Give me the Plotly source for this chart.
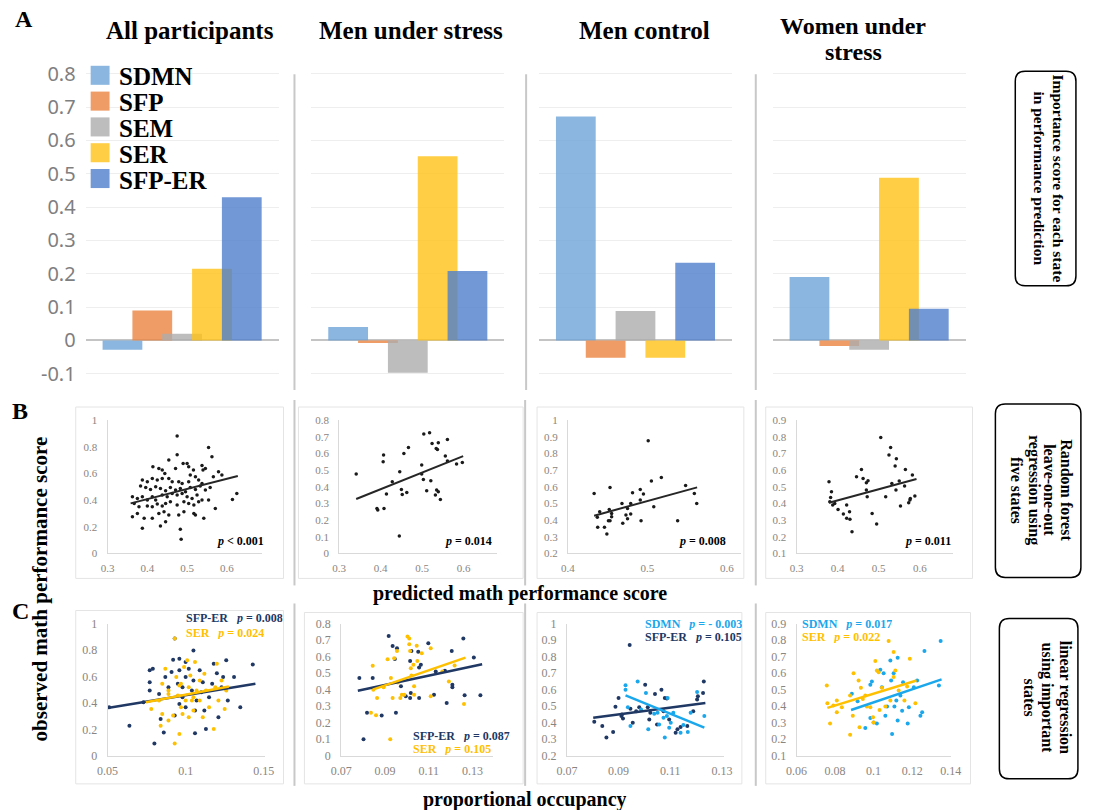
import plotly.graph_objects as go

# Figure size; positions below are given in page pixels of a 1094 x 810 view.
W, H = 1094, 814
VIEW_W, VIEW_H = 1094, 810
SX, SY = 1094 / 1110, 810 / 826   # page pixels -> view pixels
OFF = 8                           # default body margin of the page
SERIF = "Liberation Serif"


def px(x):
    return (x / SX - OFF) / W


def py(y):
    return 1 - (y / SY - OFF) / H


# ---------------- data ----------------
states = ["SDMN", "SFP", "SEM", "SER", "SFP-ER"]
groups = ["All participants", "Men under stress", "Men control", "Women under<br>stress"]

# importance score of each state, one value per group
imp_sdmn = [-0.028, 0.040, 0.672, 0.190]
imp_sfp = [0.090, -0.008, -0.052, -0.017]
imp_sem = [0.020, -0.097, 0.088, -0.028]
imp_ser = [0.215, 0.553, -0.052, 0.488]
imp_sfper = [0.430, 0.208, 0.233, 0.095]

imp_ticks = [-0.1, 0, 0.1, 0.2, 0.3, 0.4, 0.5, 0.6, 0.7, 0.8]

# random forest: predicted vs observed score
rf_all_x = [0.475, 0.475, 0.554, 0.5625, 0.5, 0.49, 0.454, 0.414, 0.429, 0.4375, 0.444, 0.471, 0.504, 0.516,
            0.5375, 0.54, 0.546, 0.579, 0.5875, 0.566, 0.3875, 0.4, 0.4125, 0.425, 0.4375, 0.454, 0.4625,
            0.479, 0.4875, 0.504, 0.508, 0.521, 0.529, 0.5375, 0.383, 0.396, 0.408, 0.421, 0.433, 0.446,
            0.458, 0.471, 0.483, 0.496, 0.508, 0.521, 0.533, 0.546, 0.558, 0.3625, 0.375, 0.3875, 0.4,
            0.4125, 0.421, 0.4375, 0.45, 0.4625, 0.475, 0.4875, 0.5, 0.5125, 0.525, 0.5375, 0.554, 0.367,
            0.379, 0.4, 0.4125, 0.425, 0.4375, 0.446, 0.458, 0.475, 0.492, 0.504, 0.517, 0.529, 0.614,
            0.625, 0.3625, 0.375, 0.392, 0.4125, 0.429, 0.442, 0.454, 0.479, 0.492, 0.521, 0.542, 0.3875,
            0.433, 0.446, 0.483, 0.485, 0.571, 0.517]
rf_all_y = [0.88, 0.74, 0.795, 0.725, 0.675, 0.675, 0.70, 0.65, 0.637, 0.625, 0.6, 0.637, 0.65, 0.625, 0.66,
            0.625, 0.637, 0.612, 0.5875, 0.575, 0.55, 0.5375, 0.5625, 0.55, 0.5625, 0.5625, 0.5375, 0.5375,
            0.525, 0.5375, 0.5875, 0.575, 0.55, 0.525, 0.505, 0.495, 0.48, 0.5, 0.4875, 0.47, 0.495, 0.475,
            0.4875, 0.4625, 0.495, 0.48, 0.505, 0.475, 0.495, 0.425, 0.4125, 0.425, 0.4, 0.425, 0.4, 0.4375,
            0.425, 0.45, 0.4375, 0.45, 0.425, 0.4125, 0.4375, 0.4, 0.4, 0.375, 0.35, 0.355, 0.35, 0.37,
            0.355, 0.375, 0.3875, 0.3625, 0.3875, 0.375, 0.3625, 0.3875, 0.405, 0.45, 0.275, 0.3, 0.2625,
            0.2625, 0.3, 0.3125, 0.2875, 0.2875, 0.3125, 0.2875, 0.2625, 0.1875, 0.205, 0.2375, 0.18,
            0.105, 0.3375, 0.30]
rf_all_fit_x = [0.358, 0.6275]
rf_all_fit_y = [0.375, 0.58]

rf_ms_x = [0.341, 0.407, 0.406, 0.414, 0.391, 0.393, 0.408, 0.446, 0.456, 0.467, 0.45, 0.452, 0.463, 0.445,
           0.499, 0.503, 0.504, 0.518, 0.511, 0.521, 0.524, 0.534, 0.537, 0.539, 0.532, 0.544, 0.535, 0.539,
           0.556, 0.561, 0.561, 0.583, 0.597, 0.499, 0.428]
rf_ms_y = [0.476, 0.59, 0.55, 0.356, 0.27, 0.26, 0.27, 0.49, 0.60, 0.636, 0.384, 0.354, 0.366, 0.104, 0.53,
           0.444, 0.716, 0.724, 0.376, 0.436, 0.66, 0.63, 0.624, 0.664, 0.35, 0.324, 0.38, 0.37, 0.584,
           0.684, 0.554, 0.536, 0.546, 0.476, 0.43]
rf_ms_fit_x = [0.341, 0.599]
rf_ms_fit_y = [0.326, 0.584]

rf_mc_x = [0.433, 0.453, 0.44, 0.437, 0.4375, 0.446, 0.449, 0.451, 0.453, 0.452, 0.455, 0.455, 0.468, 0.469,
           0.473, 0.475, 0.475, 0.479, 0.479, 0.4813, 0.491, 0.491, 0.492, 0.495, 0.501, 0.505, 0.508,
           0.5175, 0.548, 0.538, 0.559, 0.562]
rf_mc_y = [0.56, 0.596, 0.45, 0.416, 0.356, 0.356, 0.316, 0.396, 0.396, 0.464, 0.42, 0.44, 0.5, 0.38, 0.43,
           0.408, 0.47, 0.436, 0.5, 0.564, 0.584, 0.52, 0.396, 0.556, 0.876, 0.634, 0.48, 0.656, 0.608,
           0.396, 0.56, 0.5]
rf_mc_fit_x = [0.433, 0.5625]
rf_mc_fit_y = [0.426, 0.596]

rf_ws_x = [0.379, 0.385, 0.383, 0.381, 0.388, 0.393, 0.401, 0.414, 0.422, 0.422, 0.429, 0.43, 0.435, 0.446,
           0.458, 0.462, 0.47, 0.474, 0.47, 0.472, 0.484, 0.495, 0.505, 0.517, 0.525, 0.529, 0.532, 0.54,
           0.543, 0.542, 0.55, 0.553, 0.563, 0.565, 0.573, 0.576, 0.577, 0.582, 0.588]
rf_ws_y = [0.53, 0.47, 0.436, 0.41, 0.39, 0.4, 0.364, 0.336, 0.39, 0.31, 0.35, 0.304, 0.23, 0.56, 0.604,
           0.55, 0.524, 0.536, 0.48, 0.44, 0.34, 0.276, 0.796, 0.44, 0.69, 0.736, 0.52, 0.624, 0.668, 0.48,
           0.534, 0.384, 0.504, 0.604, 0.404, 0.42, 0.43, 0.57, 0.444]
rf_ws_fit_x = [0.379, 0.592]
rf_ws_fit_y = [0.404, 0.546]

# linear regression: proportional occupancy vs observed score
lr_all_sfper_x = [0.051, 0.064, 0.073, 0.077, 0.077, 0.079, 0.080, 0.077, 0.083, 0.084, 0.086, 0.087, 0.089,
                  0.091, 0.092, 0.093, 0.096, 0.095, 0.096, 0.098, 0.100, 0.100, 0.102, 0.105, 0.105, 0.106,
                  0.109, 0.111, 0.110, 0.112, 0.113, 0.115, 0.117, 0.118, 0.120, 0.121, 0.123, 0.124, 0.126,
                  0.127, 0.131, 0.135, 0.143, 0.100, 0.106, 0.093, 0.096, 0.104, 0.107, 0.098]
lr_all_sfper_y = [0.367, 0.228, 0.405, 0.557, 0.646, 0.658, 0.094, 0.494, 0.468, 0.278, 0.177, 0.595, 0.519,
                  0.633, 0.727, 0.886, 0.734, 0.544, 0.646, 0.443, 0.595, 0.709, 0.658, 0.797, 0.57, 0.17,
                  0.646, 0.557, 0.481, 0.342, 0.203, 0.443, 0.544, 0.696, 0.625, 0.291, 0.519, 0.595, 0.722,
                  0.418, 0.595, 0.367, 0.691, 0.367, 0.342, 0.304, 0.392, 0.494, 0.418, 0.519]
lr_all_sfper_fit_x = [0.05, 0.1447]
lr_all_sfper_fit_y = [0.362, 0.544]

lr_all_ser_x = [0.093, 0.078, 0.083, 0.085, 0.087, 0.084, 0.089, 0.089, 0.092, 0.094, 0.095, 0.096, 0.093,
                0.097, 0.097, 0.099, 0.101, 0.102, 0.103, 0.104, 0.105, 0.106, 0.107, 0.109, 0.109, 0.111,
                0.112, 0.113, 0.115, 0.118, 0.119, 0.120, 0.121, 0.123, 0.125, 0.126, 0.102, 0.100, 0.089,
                0.096, 0.105, 0.098, 0.085]
lr_all_ser_y = [0.886, 0.354, 0.418, 0.544, 0.658, 0.228, 0.468, 0.266, 0.304, 0.595, 0.456, 0.165, 0.094,
                0.367, 0.544, 0.671, 0.722, 0.519, 0.608, 0.418, 0.342, 0.709, 0.494, 0.57, 0.418, 0.291,
                0.62, 0.494, 0.367, 0.203, 0.519, 0.696, 0.418, 0.57, 0.354, 0.494, 0.291, 0.418, 0.494,
                0.532, 0.443, 0.316, 0.316]
lr_all_ser_fit_x = [0.0745, 0.1277]
lr_all_ser_fit_y = [0.405, 0.524]

lr_ms_sfper_x = [0.0783, 0.0844, 0.0818, 0.0885, 0.095, 0.0802, 0.0917, 0.0935, 0.0955, 0.0945, 0.0973,
                 0.0995, 0.1015, 0.1018, 0.1015, 0.1021, 0.1052, 0.1056, 0.1064, 0.1056, 0.1098, 0.1124,
                 0.1132, 0.1174, 0.1182, 0.1205, 0.1208, 0.1208, 0.1258, 0.1264, 0.1306, 0.1336]
lr_ms_sfper_y = [0.47, 0.47, 0.26, 0.244, 0.26, 0.10, 0.724, 0.664, 0.65, 0.586, 0.42, 0.36, 0.35, 0.38, 0.574,
                 0.634, 0.63, 0.534, 0.55, 0.35, 0.68, 0.37, 0.51, 0.514, 0.32, 0.634, 0.43, 0.414, 0.71,
                 0.366, 0.594, 0.366]
lr_ms_sfper_fit_x = [0.0776, 0.1344]
lr_ms_sfper_fit_y = [0.394, 0.554]

lr_ms_ser_x = [0.0844, 0.0847, 0.0836, 0.0859, 0.0864, 0.0894, 0.0912, 0.0927, 0.0924, 0.0935, 0.0942,
               0.0955, 0.0958, 0.097, 0.0977, 0.0988, 0.1003, 0.1011, 0.1011, 0.1015, 0.1018, 0.1021, 0.103,
               0.1033, 0.1045, 0.1048, 0.1068, 0.1109, 0.1109, 0.1162, 0.1192, 0.1218, 0.1261, 0.1033]
lr_ms_ser_y = [0.544, 0.40, 0.26, 0.246, 0.35, 0.414, 0.584, 0.47, 0.10, 0.35, 0.59, 0.634, 0.444, 0.35, 0.37,
               0.37, 0.722, 0.71, 0.674, 0.634, 0.53, 0.486, 0.55, 0.42, 0.666, 0.574, 0.62, 0.36, 0.65,
               0.51, 0.45, 0.546, 0.314, 0.37]
lr_ms_ser_fit_x = [0.0844, 0.1268]
lr_ms_ser_fit_y = [0.40, 0.594]

lr_mc_sfper_x = [0.0806, 0.0837, 0.0853, 0.0879, 0.0888, 0.09, 0.0911, 0.0913, 0.0917, 0.0943, 0.0946,
                 0.0955, 0.0968, 0.098, 0.1003, 0.1013, 0.1019, 0.1023, 0.1041, 0.1049, 0.1066, 0.1074,
                 0.1079, 0.1087, 0.1096, 0.1121, 0.1128, 0.114, 0.1166, 0.1189, 0.1204, 0.1207, 0.1227, 0.123]
lr_mc_sfper_y = [0.406, 0.38, 0.31, 0.344, 0.496, 0.55, 0.44, 0.45, 0.426, 0.87, 0.484, 0.4, 0.47, 0.494,
                 0.63, 0.494, 0.42, 0.46, 0.574, 0.39, 0.6, 0.47, 0.55, 0.546, 0.42, 0.34, 0.36, 0.374, 0.38,
                 0.47, 0.54, 0.56, 0.58, 0.65]
lr_mc_sfper_fit_x = [0.0802, 0.1236]
lr_mc_sfper_fit_y = [0.43, 0.52]

lr_mc_sdmn_x = [0.0927, 0.0927, 0.0936, 0.0946, 0.0974, 0.0987, 0.1006, 0.1051, 0.1057, 0.1074, 0.1079,
                0.1087, 0.109, 0.1096, 0.1102, 0.1112, 0.114, 0.1151, 0.1168, 0.1179, 0.1204, 0.1232, 0.1038,
                0.1015]
lr_mc_sdmn_y = [0.626, 0.60, 0.494, 0.38, 0.65, 0.48, 0.58, 0.46, 0.39, 0.43, 0.31, 0.44, 0.55, 0.37, 0.40,
                0.46, 0.34, 0.386, 0.344, 0.46, 0.586, 0.44, 0.454, 0.36]
lr_mc_sdmn_fit_x = [0.0927, 0.1232]
lr_mc_sdmn_fit_y = [0.566, 0.37]

lr_ws_ser_x = [0.0757, 0.076, 0.0774, 0.0791, 0.0809, 0.0809, 0.0835, 0.0878, 0.0878, 0.0896, 0.0892, 0.0922,
               0.0927, 0.0934, 0.0944, 0.0957, 0.0965, 0.0983, 0.0997, 0.1, 0.1009, 0.1017, 0.1026, 0.1031,
               0.1043, 0.1061, 0.1078, 0.1087, 0.1104, 0.1104, 0.1113, 0.113, 0.116, 0.1188, 0.1217, 0.1174]
lr_ws_ser_y = [0.525, 0.418, 0.296, 0.404, 0.434, 0.363, 0.394, 0.228, 0.464, 0.60, 0.343, 0.555, 0.272,
               0.511, 0.444, 0.464, 0.398, 0.394, 0.333, 0.302, 0.673, 0.616, 0.606, 0.377, 0.511, 0.398,
               0.794, 0.434, 0.728, 0.576, 0.616, 0.495, 0.434, 0.687, 0.418, 0.519]
lr_ws_ser_fit_x = [0.076, 0.1223]
lr_ws_ser_fit_y = [0.39, 0.555]

lr_ws_sdmn_x = [0.0887, 0.0917, 0.0957, 0.0983, 0.0991, 0.0983, 0.1, 0.1017, 0.1035, 0.1043, 0.1052, 0.1061,
                0.107, 0.1087, 0.1091, 0.1096, 0.1104, 0.1108, 0.1118, 0.1125, 0.1125, 0.1139, 0.1153, 0.1177,
                0.1183, 0.1209, 0.1226, 0.1243, 0.1252, 0.1264, 0.1339, 0.1348, 0.1148]
lr_ws_sdmn_y = [0.475, 0.43, 0.268, 0.529, 0.549, 0.329, 0.302, 0.296, 0.62, 0.515, 0.60, 0.343, 0.398,
                0.677, 0.555, 0.232, 0.60, 0.398, 0.434, 0.693, 0.313, 0.464, 0.545, 0.296, 0.394, 0.515,
                0.555, 0.343, 0.363, 0.734, 0.525, 0.794, 0.373]
lr_ws_sdmn_fit_x = [0.0883, 0.1353]
lr_ws_sdmn_fit_y = [0.377, 0.562]

# ---------------- styling ----------------
bar_colors = {
    "SDMN": "rgba(109,164,216,0.8)",
    "SFP": "rgba(235,131,64,0.8)",
    "SEM": "rgba(172,172,172,0.8)",
    "SER": "rgba(255,194,22,0.8)",
    "SFP-ER": "rgba(79,126,204,0.8)",
}
legend_colors = {
    "SDMN": "#8ab6e0", "SFP": "#ef9c66", "SEM": "#bdbdbd", "SER": "#ffce45", "SFP-ER": "#7298d6",
}
NAVY = "#203864"
GOLD = "#ffc000"
SKY = "#1aa7ec"
TICK_GREY = "#8a8580"

fig = go.Figure()
layout = dict(
    width=W, height=H, margin=dict(l=0, r=0, t=0, b=0),
    paper_bgcolor="white", plot_bgcolor="rgba(0,0,0,0)", showlegend=False,
)


def axkeys(n):
    s = "" if n == 1 else str(n)
    return "xaxis" + s, "yaxis" + s, "x" + s, "y" + s


# ---- row A: importance bars ----
bar_dom_px = [(83, 277), (310, 504), (539, 733), (774, 968)]
bar_top, bar_bot = 57.9, 390.4
series = {"SDMN": imp_sdmn, "SFP": imp_sfp, "SEM": imp_sem, "SER": imp_ser, "SFP-ER": imp_sfper}
for g in range(4):
    n = g + 1
    xk, yk, xs, ys = axkeys(n)
    layout[xk] = dict(domain=[px(bar_dom_px[g][0]), px(bar_dom_px[g][1])], range=[-1.233, 5.233],
                      visible=False, anchor=ys, fixedrange=True)
    layout[yk] = dict(domain=[py(bar_bot), py(bar_top)], range=[-0.15, 0.85], anchor=xs,
                      tickvals=imp_ticks, ticktext=[f"{v:g}" for v in imp_ticks],
                      showticklabels=(g == 0), ticks="", ticklabelstandoff=9,
                      tickfont=dict(family="Noto Sans", size=20, color="#7f7f7f"),
                      showgrid=True, gridcolor="#eeeeee", gridwidth=1,
                      zeroline=True, zerolinecolor="#c4c4c4", zerolinewidth=1.5,
                      showline=False, fixedrange=True)
    for k, s in enumerate(states):
        fig.add_trace(go.Bar(x=[k], y=[series[s][g]], width=1.333, marker=dict(color=bar_colors[s], line=dict(width=0)),
                             xaxis=xs, yaxis=ys, name=s))


# ---- scatter panels ----
def scatter_axes(n, xdom, xrange, xticks, ydom, yrange, yticks, fs):
    xk, yk, xs, ys = axkeys(n)
    tf = dict(family=SERIF, size=fs, color=TICK_GREY)
    layout[xk] = dict(domain=[px(xdom[0]), px(xdom[1])], range=xrange, anchor=ys,
                      tickvals=xticks, ticktext=[f"{v:g}" for v in xticks], ticks="",
                      ticklabelstandoff=4, tickfont=tf, showgrid=False, zeroline=False,
                      showline=True, linecolor="#d9d9d9", linewidth=1, fixedrange=True)
    layout[yk] = dict(domain=[py(ydom[1]), py(ydom[0])], range=yrange, anchor=xs,
                      tickvals=yticks, ticktext=[f"{v:g}" for v in yticks], ticks="",
                      ticklabelstandoff=7, tickfont=tf, showgrid=False, zeroline=False,
                      showline=True, linecolor="#d9d9d9", linewidth=1, fixedrange=True)
    return xs, ys


def add_points(xs, ys, x, y, color, size):
    fig.add_trace(go.Scatter(x=x, y=y, mode="markers", marker=dict(color=color, size=size, line=dict(width=0)),
                             xaxis=xs, yaxis=ys, hoverinfo="skip"))


def add_fit(xs, ys, x, y, color, width):
    fig.add_trace(go.Scatter(x=x, y=y, mode="lines", line=dict(color=color, width=width),
                             xaxis=xs, yaxis=ys, hoverinfo="skip"))


def ticks(a, b, step):
    out, v = [], a
    while v <= b + 1e-9:
        out.append(round(v, 4))
        v += step
    return out


RB = (420, 553)
RC = (623, 755)
rf_panels = [
    ((105, 260), [0.3, 0.6875], ticks(0.3, 0.6, 0.1), [0, 1], ticks(0, 1, 0.2), rf_all_x, rf_all_y, rf_all_fit_x, rf_all_fit_y),
    ((338, 497), [0.3, 0.6813], ticks(0.3, 0.6, 0.1), [0, 0.8], ticks(0, 0.8, 0.1), rf_ms_x, rf_ms_y, rf_ms_fit_x, rf_ms_fit_y),
    ((568, 742), [0.4, 0.6175], ticks(0.4, 0.6, 0.1), [0.2, 1], ticks(0.2, 1, 0.1), rf_mc_x, rf_mc_y, rf_mc_fit_x, rf_mc_fit_y),
    ((798, 955), [0.3, 0.68], ticks(0.3, 0.6, 0.1), [0.1, 0.9], ticks(0.1, 0.9, 0.1), rf_ws_x, rf_ws_y, rf_ws_fit_x, rf_ws_fit_y),
]
for i, (xd, xr, xt, yr, yt, x, y, fx, fy) in enumerate(rf_panels):
    xs, ys = scatter_axes(5 + i, xd, xr, xt, RB, yr, yt, 11)
    add_points(xs, ys, x, y, "#1a1a1a", 3.5)
    add_fit(xs, ys, fx, fy, "#262626", 2)

lr_panels = [
    ((105, 263), [0.05, 0.1506], [0.05, 0.1, 0.15], [0, 1], ticks(0, 1, 0.2),
     [(lr_all_sfper_x, lr_all_sfper_y, NAVY), (lr_all_ser_x, lr_all_ser_y, GOLD)],
     [(lr_all_sfper_fit_x, lr_all_sfper_fit_y, NAVY), (lr_all_ser_fit_x, lr_all_ser_fit_y, GOLD)]),
    ((340, 493), [0.07, 0.1395], [0.07, 0.09, 0.11, 0.13], [0, 0.8], ticks(0, 0.8, 0.1),
     [(lr_ms_sfper_x, lr_ms_sfper_y, NAVY), (lr_ms_ser_x, lr_ms_ser_y, GOLD)],
     [(lr_ms_sfper_fit_x, lr_ms_sfper_fit_y, NAVY), (lr_ms_ser_fit_x, lr_ms_ser_fit_y, GOLD)]),
    ((567, 725), [0.07, 0.1308], [0.07, 0.09, 0.11, 0.13], [0.2, 1], ticks(0.2, 1, 0.1),
     [(lr_mc_sfper_x, lr_mc_sfper_y, NAVY), (lr_mc_sdmn_x, lr_mc_sdmn_y, SKY)],
     [(lr_mc_sfper_fit_x, lr_mc_sfper_fit_y, NAVY), (lr_mc_sdmn_fit_x, lr_mc_sdmn_fit_y, SKY)]),
    ((798, 953), [0.06, 0.14], [0.06, 0.08, 0.1, 0.12, 0.14], [0.1, 0.9], ticks(0.1, 0.9, 0.1),
     [(lr_ws_sdmn_x, lr_ws_sdmn_y, SKY), (lr_ws_ser_x, lr_ws_ser_y, GOLD)],
     [(lr_ws_sdmn_fit_x, lr_ws_sdmn_fit_y, SKY), (lr_ws_ser_fit_x, lr_ws_ser_fit_y, GOLD)]),
]
for i, (xd, xr, xt, yr, yt, pts, fits) in enumerate(lr_panels):
    xs, ys = scatter_axes(9 + i, xd, xr, xt, RC, yr, yt, 12)
    for x, y, c in pts:
        add_points(xs, ys, x, y, c, 4)
    for x, y, c in fits:
        add_fit(xs, ys, x, y, c, 2.5)

# ---------------- shapes ----------------
shapes = []


def line(x0, y0, x1, y1, color, width):
    shapes.append(dict(type="line", xref="paper", yref="paper", x0=px(x0), y0=py(y0), x1=px(x1), y1=py(y1),
                       line=dict(color=color, width=width), layer="below"))


def box(x0, y0, x1, y1, color, width):
    shapes.append(dict(type="rect", xref="paper", yref="paper", x0=px(x0), y0=py(y0), x1=px(x1), y1=py(y1),
                       line=dict(color=color, width=width), layer="below"))


def rrect(x0, y0, x1, y1, r=10):
    X0, X1, Y0, Y1 = px(x0), px(x1), py(y0), py(y1)
    rx, ry = r / W, r / H
    path = (f"M{X0 + rx},{Y0} L{X1 - rx},{Y0} Q{X1},{Y0} {X1},{Y0 - ry} L{X1},{Y1 + ry} "
            f"Q{X1},{Y1} {X1 - rx},{Y1} L{X0 + rx},{Y1} Q{X0},{Y1} {X0},{Y1 + ry} "
            f"L{X0},{Y0 - ry} Q{X0},{Y0} {X0 + rx},{Y0} Z")
    shapes.append(dict(type="path", xref="paper", yref="paper", path=path,
                       line=dict(color="black", width=1.5)))


# separators between the four groups
for x in (293, 526, 757):
    line(x, 75, x, 390, "#c8c8c8", 2)
for x in (293, 525, 757):
    line(x, 400, x, 585, "#c8c8c8", 2)
    line(x, 603, x, 785, "#c8c8c8", 2)

# chart frames
for (a, b, c, d) in [(73, 407, 282, 578), (297, 407, 523, 578), (537, 407, 745, 578), (767, 407, 975, 578),
                     (73, 610, 282, 783), (303, 612, 523, 783), (537, 612, 743, 783), (767, 612, 973, 783)]:
    box(a, b, c, d, "#e4e4e4", 1)

# right-hand description boxes
rrect(1018, 72, 1079, 286)
rrect(998, 404, 1084, 577)
rrect(1002, 618, 1081, 778)

# legend swatches
leg_y0 = 76
leg_step = 25.75
for k, s in enumerate(states):
    yc = leg_y0 + k * leg_step
    shapes.append(dict(type="rect", xref="paper", yref="paper", x0=px(88), x1=px(107), y0=py(yc + 9.5),
                       y1=py(yc - 9.5), line=dict(width=0), fillcolor=legend_colors[s]))

layout["shapes"] = shapes

# ---------------- text ----------------
ann = []


def note(x, y, text, size, color="black", xanchor="center", angle=0, family=SERIF, height=None):
    a = dict(x=px(x), y=py(y), xref="paper", yref="paper", text=text, showarrow=False,
             font=dict(family=family, size=size, color=color), xanchor=xanchor, yanchor="middle",
             textangle=angle, borderpad=0)
    if height:
        a["height"] = height
    ann.append(a)


# panel letters
note(21, 20, "<b>A</b>", 24)
note(17, 411, "<b>B</b>", 24)
note(17, 611, "<b>C</b>", 24)

# group titles
note(188, 31, "<b>All participants</b>", 25)
note(410, 31, "<b>Men under stress</b>", 25)
note(645, 31, "<b>Men control</b>", 25)
note(855, 27, "<b>Women under</b>", 24, height=22)
note(855, 53, "<b>stress</b>", 24, height=22)

# legend labels
for k, s in enumerate(states):
    note(116, leg_y0 + k * leg_step + 1, f"<b>{s}</b>", 25, xanchor="left", height=24)

# p-values for the random forest panels
for xr, txt in [(263, "p < 0.001"), (493, "p = 0.014"), (728, "p = 0.008"), (954, "p = 0.011")]:
    p, rest = txt.split(" ", 1)
    note(xr, 541, f"<b><i>{p}</i> {rest}</b>", 12, xanchor="right")

NB = "\u00a0"


def pnote(x, y, label, pval, color):
    note(x, y, f"<b>{label}{NB}{NB}{NB}<i>p</i> = {pval}</b>", 12, color=color, xanchor="left", height=13)


pnote(183, 617, "SFP-ER", "0.008", NAVY)
pnote(183, 632, "SER", "0.024", GOLD)
pnote(411, 735, "SFP-ER", "0.087", NAVY)
pnote(411, 748, "SER", "0.105", GOLD)
pnote(645, 623, "SDMN", "- 0.003", SKY)
pnote(645, 636, "SFP-ER", "0.105", NAVY)
pnote(802, 623, "SDMN", "0.017", SKY)
pnote(802, 636, "SER", "0.022", GOLD)

# axis titles
note(37, 588, "<b>observed math performance score</b>", 21, angle=-90)
note(520, 593, "<b>predicted math performance score</b>", 20)
note(525, 798, "<b>proportional occupancy</b>", 20, height=22)

# descriptions in the right-hand boxes
for x, t in [(1061, "Importance score for each state"), (1042, "in performance prediction")]:
    note(x, 179, f"<b>{t}</b>", 15.5, angle=90)
for x, t in [(1070, "Random forest"), (1053, "leave-one-out"), (1037, "regression using"), (1020, "five states")]:
    note(x, 490, f"<b>{t}</b>", 16, angle=90)
for x, t in [(1068, "linear regression"), (1050, "using important"), (1032, "states")]:
    note(x, 697, f"<b>{t}</b>", 16, angle=90)

layout["annotations"] = ann
fig.update_layout(**layout)
fig.write_html("out.html")
